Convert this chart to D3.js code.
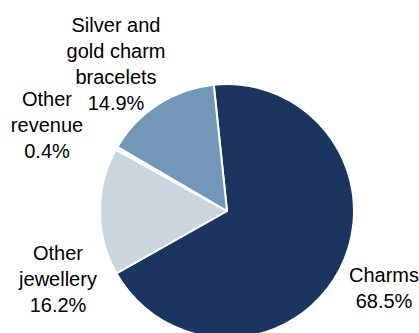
<!DOCTYPE html>
<html>
<head>
<meta charset="utf-8">
<script src="https://cdn.jsdelivr.net/npm/d3@7"></script>
<style>
  html, body { margin: 0; padding: 0; background: #ffffff; }
  svg { display: block; }
</style>
</head>
<body>
<script>
// Revenue split by product category (%)
const categories = ["Charms", "Other jewellery", "Other revenue", "Silver and gold charm bracelets"];
const shares = [68.5, 16.2, 0.4, 14.9];
const labelLines = [
  ["Charms"],
  ["Other", "jewellery"],
  ["Other", "revenue"],
  ["Silver and", "gold charm", "bracelets"]
];
const colors = ["#1b3560", "#cad5de", "#ffffff", "#7397b9"];

const width = 419, height = 333;
const cx = 227, cy = 211, radius = 127;
// label block centres, as offsets from the pie centre
const labelOffsets = [[157, 77], [-169, 68], [-180, -86], [-111, -147]];
const lineHeight = 26;
const fontSize = 20;

const svg = d3.select("body").append("svg")
  .attr("width", width)
  .attr("height", height);

const pie = d3.pie()
  .sort(null)
  .startAngle(-6 * Math.PI / 180)
  .endAngle(354 * Math.PI / 180)
  .value(d => d);

const arc = d3.arc().innerRadius(0).outerRadius(radius);

const g = svg.append("g").attr("transform", `translate(${cx},${cy})`);

g.selectAll("path")
  .data(pie(shares))
  .join("path")
  .attr("d", arc)
  .attr("fill", (d, i) => colors[i])
  .attr("stroke", "#ffffff")
  .attr("stroke-width", 2)
  .attr("stroke-linejoin", "round");

const labels = g.selectAll("text.label")
  .data(categories)
  .join("text")
  .attr("class", "label")
  .attr("text-anchor", "middle")
  .attr("font-family", "'Liberation Sans', Arial, sans-serif")
  .attr("font-size", fontSize)
  .attr("fill", "#000000");

labels.each(function(name, i) {
  const lines = labelLines[i].concat([d3.format(".1f")(shares[i]) + "%"]);
  const [ox, oy] = labelOffsets[i];
  const firstBaseline = oy - (lines.length - 1) * lineHeight / 2 + fontSize * 0.36;
  d3.select(this).selectAll("tspan")
    .data(lines)
    .join("tspan")
    .attr("x", ox)
    .attr("y", (d, j) => firstBaseline + j * lineHeight)
    .text(d => d);
});
</script>
</body>
</html>
